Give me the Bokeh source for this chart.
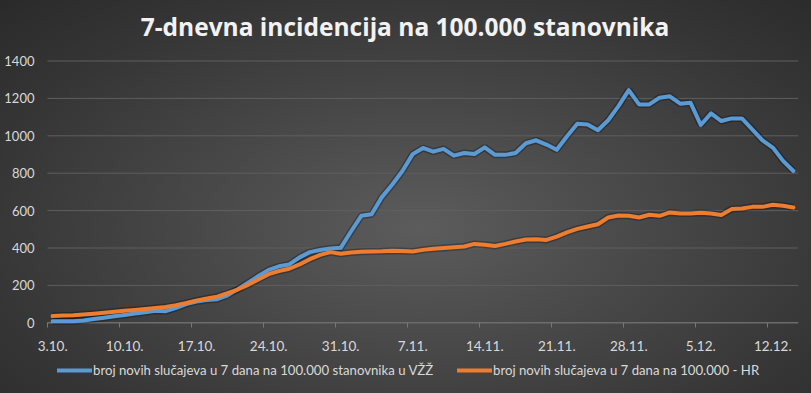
import pandas as pd
from bokeh.plotting import figure
from bokeh.models import (FixedTicker, Legend, LegendItem, ColumnDataSource,
                          GlobalInlineStyleSheet, Label)
from bokeh.embed import file_html
from bokeh.resources import INLINE

# ---------------- data ----------------
dates = pd.date_range("2020-10-03", "2020-12-14", freq="D")
day_index = list(range(len(dates)))

vzz = [8, 8, 8, 12, 20, 27, 35, 42, 50, 56,
       64, 62, 80, 100, 114, 122, 126, 147, 180, 215,
       250, 283, 302, 312, 350, 378, 389, 397, 401, 488,
       572, 580, 672, 738, 812, 902, 935, 915, 930, 894,
       908, 903, 938, 898, 898, 908, 960, 976, 953, 925,
       998, 1065, 1060, 1030, 1083, 1159, 1244, 1168, 1168, 1204,
       1211, 1172, 1177, 1058, 1120, 1079, 1093, 1093, 1035, 976,
       937, 866, 812]

hr = [36, 39, 40, 44, 49, 54, 59, 64, 69, 74,
      79, 84, 94, 106, 120, 130, 140, 158, 178, 203,
      232, 260, 277, 289, 312, 340, 363, 378, 369, 376,
      380, 381, 382, 385, 384, 381, 390, 396, 400, 404,
      408, 422, 417, 411, 422, 435, 445, 447, 443, 461,
      484, 502, 515, 527, 563, 574, 572, 563, 578, 572,
      590, 585, 585, 588, 585, 576, 608, 611, 620, 620,
      631, 626, 617]

label_days = list(range(0, len(dates), 7))
tick_labels = [f"{d.day}.{d.month}." for d in dates[label_days]]
y_ticks = [0, 200, 400, 600, 800, 1000, 1200, 1400]

title_text = "7-dnevna incidencija na 100.000 stanovnika"
name_vzz = "broj novih slučajeva u 7 dana na 100.000 stanovnika u VŽŽ"
name_hr = "broj novih slučajeva u 7 dana na 100.000 - HR"

# ---------------- layout ----------------
W, H = 811, 393
RIGHT = 13
AXIS_LEFT_PX = 47                 # where the value axis sits
PLOT_TOP_PX, PLOT_BOTTOM_PX = 60.5, 322.3
FRAME_W = W - RIGHT
n = len(dates)
x_lo, x_hi = -0.5, n - 0.5
day_px = (FRAME_W - AXIS_LEFT_PX) / (x_hi - x_lo)
x_start = x_lo - AXIS_LEFT_PX / day_px          # room left of axis for labels
y_top_val = 1400
unit_px = (PLOT_BOTTOM_PX - PLOT_TOP_PX) / y_top_val
y_max = y_top_val + PLOT_TOP_PX / unit_px        # room for the title
y_min = -(H - PLOT_BOTTOM_PX) / unit_px          # room for labels + legend

FONT = "Lato"
LABEL_COLOR = "#d9d9d9"
GRID_COLOR = "#5f5f5f"
AXIS_COLOR = "#777777"
BLUE, ORANGE = "#5B9BD5", "#ED7D31"

src = ColumnDataSource(dict(x=day_index, vzz=vzz, hr=hr))

p = figure(width=W, height=H, output_backend="svg", toolbar_location=None,
           x_range=(x_start, x_hi), y_range=(y_min, y_max),
           min_border_left=0, min_border_right=RIGHT,
           min_border_top=0, min_border_bottom=0)

p.stylesheets = [GlobalInlineStyleSheet(css="""
html, body { margin: 0; padding: 0; overflow: hidden;
  background: radial-gradient(ellipse farthest-corner at 52% 58%,
      #5c5c5c 0%, #474747 40%, #353535 75%, #2a2a2a 100%); }
""")]

p.background_fill_color = None
p.border_fill_color = None
p.outline_line_color = None

# title
p.add_layout(Label(x=404.5, y=H - 26, x_units="screen", y_units="screen",
                   text=title_text, text_align="center",
                   text_baseline="alphabetic", text_font="Open Sans",
                   text_font_style="bold", text_font_size="24.5px",
                   text_color="#f2f2f2"))

# grid lines only across the plot area
p.xgrid.grid_line_color = None
p.ygrid.grid_line_color = None
p.segment(x0=[x_lo] * len(y_ticks), x1=[x_hi] * len(y_ticks),
          y0=y_ticks, y1=y_ticks, line_color=GRID_COLOR, line_width=1)

# y axis (drawn at the left edge of the plot area)
p.yaxis.fixed_location = x_lo
p.yaxis.ticker = FixedTicker(ticks=y_ticks)
p.yaxis.axis_line_color = None
p.yaxis.major_tick_line_color = None
p.yaxis.minor_tick_line_color = None
p.yaxis.major_tick_out = 0
p.yaxis.major_label_standoff = 13
p.yaxis.major_label_text_font = FONT
p.yaxis.major_label_text_font_size = "13px"
p.yaxis.major_label_text_color = LABEL_COLOR

# x axis (drawn at value 0)
p.xaxis.fixed_location = 0
p.xaxis.ticker = FixedTicker(ticks=label_days,
                             minor_ticks=[d - 0.5 for d in label_days])
p.xaxis.major_label_overrides = {d: t for d, t in zip(label_days, tick_labels)}
p.xaxis.axis_line_color = None
p.xaxis.major_tick_line_color = None
p.xaxis.major_tick_out = 0
p.xaxis.minor_tick_line_color = AXIS_COLOR
p.xaxis.minor_tick_out = 5
p.xaxis.minor_tick_in = 0
p.xaxis.major_label_standoff = 13
p.xaxis.major_label_text_font = FONT
p.xaxis.major_label_text_font_size = "13.5px"
p.xaxis.major_label_text_color = LABEL_COLOR
p.segment(x0=[x_lo], x1=[x_hi], y0=[0], y1=[0], line_color=AXIS_COLOR, line_width=1)

# shadows
p.line("x", "vzz", source=src, line_color="black", line_alpha=0.28, line_width=7)
p.line("x", "hr", source=src, line_color="black", line_alpha=0.28, line_width=7)

r_vzz = p.line("x", "vzz", source=src, line_color=BLUE, line_width=4,
               line_join="round", line_cap="round")
r_hr = p.line("x", "hr", source=src, line_color=ORANGE, line_width=4,
              line_join="round", line_cap="round")

legend_style = dict(orientation="horizontal", padding=0, margin=0,
                    glyph_width=35, glyph_height=20, label_standoff=1,
                    label_text_font=FONT, label_text_font_size="13.2px",
                    label_text_color=LABEL_COLOR,
                    background_fill_alpha=0, border_line_color=None)
p.add_layout(Legend(items=[LegendItem(label=name_vzz, renderers=[r_vzz])],
                    location=(57, 13), **legend_style), "center")
p.add_layout(Legend(items=[LegendItem(label=name_hr, renderers=[r_hr])],
                    location=(457, 13), **legend_style), "center")

open("out.html", "w").write(file_html(p, INLINE))
